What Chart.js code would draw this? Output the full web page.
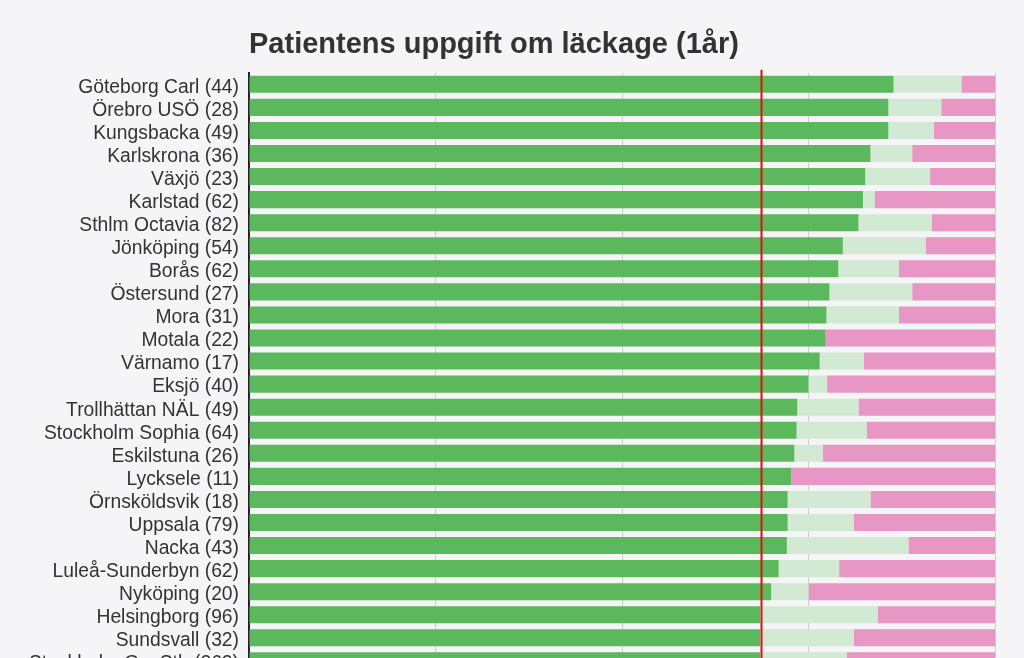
<!DOCTYPE html>
<html>
<head>
<meta charset="utf-8">
<script src="https://cdn.jsdelivr.net/npm/chart.js@4/dist/chart.umd.min.js"></script>
<style>
  html, body { margin: 0; padding: 0; background: #f5f5f7; overflow: hidden; }
  #wrap { width: 1024px; height: 694px; }
</style>
</head>
<body>
<div id="wrap"><canvas id="leakChart"></canvas></div>
<script>
const clinics = [
  'Göteborg Carl (44)', 'Örebro USÖ (28)', 'Kungsbacka (49)', 'Karlskrona (36)',
  'Växjö (23)', 'Karlstad (62)', 'Sthlm Octavia (82)', 'Jönköping (54)',
  'Borås (62)', 'Östersund (27)', 'Mora (31)', 'Motala (22)', 'Värnamo (17)',
  'Eksjö (40)', 'Trollhättan NÄL (49)', 'Stockholm Sophia (64)', 'Eskilstuna (26)',
  'Lycksele (11)', 'Örnsköldsvik (18)', 'Uppsala (79)', 'Nacka (43)',
  'Luleå-Sunderbyn (62)', 'Nyköping (20)', 'Helsingborg (96)', 'Sundsvall (32)',
  'Stockholm GynSth (262)'
];

// percent of patients per answer
const noLeak = [86.4, 85.7, 85.7, 83.3, 82.6, 82.3, 81.7, 79.6, 79.0, 77.8, 77.4, 77.3, 76.5,
  75.0, 73.5, 73.4, 73.1, 72.7, 72.2, 72.2, 72.1, 71.0, 70.0, 68.5, 68.5, 68.5];
const someLeak = [9.1, 7.1, 6.1, 5.6, 8.7, 1.6, 9.8, 11.1, 8.1, 11.1, 9.7, 0, 5.9,
  2.5, 8.2, 9.4, 3.8, 0, 11.1, 8.9, 16.3, 8.1, 5.0, 15.8, 12.6, 11.6];
const leak = [4.5, 7.2, 8.2, 11.1, 8.7, 16.1, 8.5, 9.3, 12.9, 11.1, 12.9, 22.7, 17.6,
  22.5, 18.3, 17.2, 23.1, 27.3, 16.7, 18.9, 11.6, 20.9, 25.0, 15.7, 18.9, 19.9];

const nationalLevel = 68.7;

const refLine = {
  id: 'refLine',
  afterDatasetsDraw(chart) {
    const { ctx, chartArea, scales } = chart;
    const x = scales.x.getPixelForValue(nationalLevel);
    ctx.save();
    ctx.strokeStyle = '#e01010';
    ctx.lineWidth = 2;
    ctx.beginPath();
    ctx.moveTo(x, chartArea.top - 3);
    ctx.lineTo(x, chartArea.bottom);
    ctx.stroke();
    ctx.restore();
  }
};

const ctx = document.getElementById('leakChart').getContext('2d');

new Chart(ctx, {
  type: 'bar',
  data: {
    labels: clinics,
    datasets: [
      { label: 'Inget läckage', data: noLeak, backgroundColor: '#5cb85c' },
      { label: 'Lite läckage', data: someLeak, backgroundColor: '#d2e9d4' },
      { label: 'Läckage', data: leak, backgroundColor: '#e896c3' },
    ],
  },
  options: {
    indexAxis: 'y',
    responsive: true,
    maintainAspectRatio: false,
    animation: false,
    datasets: {
      bar: { barPercentage: 0.74, categoryPercentage: 1.0 },
    },
    layout: { padding: { left: 0, right: 29, top: 0, bottom: 0 } },
    scales: {
      x: {
        stacked: true,
        min: 0,
        max: 100,
        ticks: { display: false, stepSize: 25 },
        grid: { color: '#cfcfcf', drawTicks: false },
        border: { display: false },
      },
      y: {
        stacked: true,
        afterFit(scale) { scale.width = 249; },
        grid: { display: false, drawTicks: false },
        border: { display: true, color: '#222', width: 2 },
        ticks: {
          autoSkip: false,
          color: '#333',
          padding: 10,
          labelOffset: 3,
          font: { family: '"Liberation Sans", Arial, sans-serif', size: 19.3 },
        },
      },
    },
    plugins: {
      legend: { display: false },
      tooltip: { enabled: false },
      title: {
        display: true,
        text: 'Patientens uppgift om läckage (1år)',
        align: 'start',
        fullSize: false,
        color: '#333',
        padding: { top: 28, bottom: 10 },
        font: { family: '"Liberation Sans", Arial, sans-serif', size: 29, weight: 'bold' },
      },
    },
  },
  plugins: [refLine],
});
</script>
</body>
</html>
